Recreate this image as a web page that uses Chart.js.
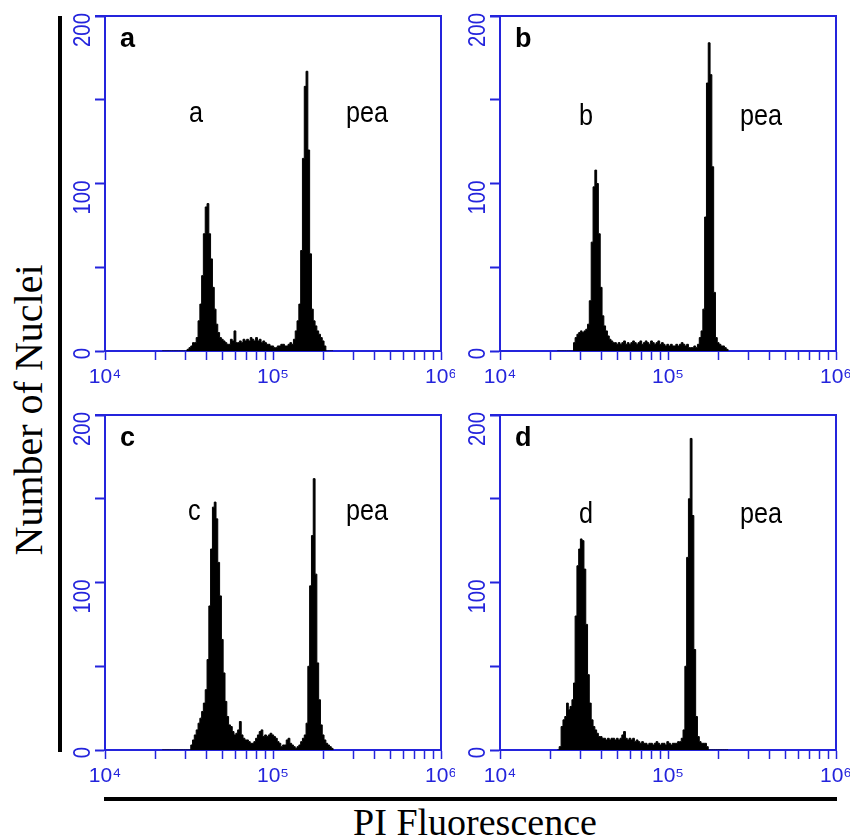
<!DOCTYPE html>
<html>
<head>
<meta charset="utf-8">
<script src="https://cdn.jsdelivr.net/npm/chart.js@4.4.1/dist/chart.umd.min.js"></script>
<style>
  body { margin: 0; background: #fff; width: 857px; height: 840px; position: relative; overflow: hidden; }
  canvas.panel { position: absolute; }
  .bar { position: absolute; background: #000; }
  .ytitle { position: absolute; left: 29px; top: 410px; font: 40px 'Liberation Serif', 'Times New Roman', serif;
            line-height: 40px; white-space: nowrap; transform: translate(-50%, -50%) rotate(-90deg); }
  .xtitle { position: absolute; left: 275px; width: 400px; top: 803px; text-align: center;
            font: 38px 'Liberation Serif', 'Times New Roman', serif; line-height: 38px; white-space: nowrap; }
</style>
</head>
<body>
<canvas id="pa" class="panel" width="400" height="395" style="left:55px;top:0px"></canvas>
<canvas id="pb" class="panel" width="400" height="395" style="left:450px;top:0px"></canvas>
<canvas id="pc" class="panel" width="400" height="395" style="left:55px;top:399px"></canvas>
<canvas id="pd" class="panel" width="400" height="395" style="left:450px;top:399px"></canvas>
<div class="bar" style="left:58px;top:16px;width:4px;height:736px"></div>
<div class="bar" style="left:104px;top:797px;width:733px;height:4px"></div>
<div class="ytitle">Number of Nuclei</div>
<div class="xtitle">PI Fluorescence</div>
<script>
// PI fluorescence channel (x1000)
const fluor = [
  21.9, 22.5, 23.1, 23.7, 24.3, 24.9, 25.5, 26.1, 26.8, 27.4,
  28, 28.7, 29.4, 30.1, 30.8, 31.6, 32.4, 33.2, 34, 34.9,
  35.8, 36.7, 37.6, 38.5, 39.5, 40.5, 41.5, 42.5, 43.6, 44.7,
  45.8, 46.9, 48.1, 49.3, 50.5, 51.8, 53.1, 54.4, 55.8, 57.2,
  58.6, 60.1, 61.6, 63.1, 64.7, 66.3, 68, 69.7, 71.4, 73.2,
  75, 76.9, 78.8, 80.8, 82.8, 84.9, 87, 89.2, 91.4, 93.7,
  96, 98.4, 100.9, 103.4, 106, 108.6, 111.3, 114.1, 117, 119.9,
  122.9, 126, 129.1, 132.3, 135.6, 139, 142.5, 146.1, 149.7, 153.5,
  157.3, 161.2, 165.2, 169.4, 173.6, 178, 182.4, 187, 191.6, 196.4,
  201.3, 206.4, 211.5, 216.8, 222.2, 227.8
];

const countsA = [
  0, 0, 0, 0, 0, 0, 0, 0, 0, 0,
  0, 0, 0, 0, 1, 2, 3, 5, 5, 8,
  18, 28, 45, 70, 86, 88, 70, 55, 38, 25,
  16, 11, 8, 7, 6, 5, 4, 4, 7, 6,
  12, 5, 5, 6, 5, 7, 6, 7, 6, 8,
  7, 6, 8, 6, 7, 5, 6, 5, 4, 4,
  3, 3, 2, 2, 3, 3, 4, 4, 3, 3,
  4, 5, 4, 7, 12, 18, 28, 60, 115, 158,
  167, 120, 58, 25, 18, 15, 12, 10, 8, 6,
  3, 0, 0, 0, 0, 0
];

const countsB = [
  0, 0, 0, 0, 0, 0, 0, 0, 0, 5,
  8, 10, 11, 12, 11, 12, 13, 16, 30, 65,
  98, 108, 100, 70, 38, 21, 15, 12, 9, 7,
  6, 5, 5, 4, 5, 4, 5, 6, 4, 5,
  4, 5, 6, 5, 4, 5, 6, 4, 5, 6,
  5, 4, 6, 5, 4, 5, 6, 4, 5, 4,
  3, 4, 3, 4, 3, 3, 4, 3, 4, 5,
  4, 3, 4, 2, 2, 2, 3, 2, 4, 8,
  12, 25, 80, 160, 184, 165, 110, 35, 8, 5,
  4, 3, 3, 2, 1, 0
];

const countsC = [
  0, 0, 0, 0, 0, 0, 0, 0, 0, 0,
  0, 0, 0, 0, 0, 0, 3, 6, 9, 12,
  16, 19, 23, 28, 36, 54, 86, 120, 145, 148,
  138, 112, 92, 66, 46, 29, 20, 15, 14, 11,
  9, 10, 12, 17, 9, 7, 6, 6, 5, 4,
  4, 5, 7, 9, 11, 12, 8, 9, 8, 9,
  10, 9, 8, 7, 5, 4, 2, 3, 3, 6,
  7, 4, 3, 2, 1, 2, 3, 5, 7, 9,
  16, 50, 98, 128, 162, 105, 52, 30, 15, 9,
  6, 4, 3, 2, 1, 0
];

const countsD = [
  0, 2, 14, 18, 20, 28, 24, 26, 30, 40,
  80, 110, 120, 126, 125, 108, 75, 45, 28, 18,
  14, 12, 10, 8, 8, 7, 7, 6, 7, 6,
  7, 7, 6, 7, 6, 7, 9, 11, 7, 6,
  7, 6, 7, 5, 6, 5, 4, 5, 4, 4,
  3, 4, 4, 3, 4, 5, 4, 3, 4, 4,
  3, 5, 4, 3, 4, 4, 4, 5, 5, 7,
  12, 50, 115, 150, 186, 140, 60, 20, 8, 5,
  4, 4, 4, 2, 0, 0, 0, 0, 0, 0,
  0, 0, 0, 0, 0, 0
];

const panelLetters = ['a', 'b', 'c', 'd'];
const sampleNames = ['a', 'b', 'c', 'd'];
const refName = 'pea';
const yTicks = [0, 100, 200];
const xTickValues = [1e4, 2e4, 3e4, 4e4, 5e4, 6e4, 7e4, 8e4, 9e4,
                     1e5, 2e5, 3e5, 4e5, 5e5, 6e5, 7e5, 8e5, 9e5, 1e6];
const sup = { 4: '\u2074', 5: '\u2075', 6: '\u2076' };

const BLUE = '#2424dc';
const SANS = "'Liberation Sans', Arial, sans-serif";

const panelDecor = {
  id: 'panelDecor',
  afterDatasetsDraw(chart, args, opts) {
    const { ctx, chartArea: a, scales: { x, y } } = chart;
    ctx.save();
    // top and right frame
    ctx.strokeStyle = BLUE;
    ctx.lineWidth = 2;
    ctx.beginPath();
    ctx.moveTo(a.left - 10, a.top);
    ctx.lineTo(a.right, a.top);
    ctx.lineTo(a.right, a.bottom);
    ctx.stroke();

    // rotated y tick labels
    ctx.fillStyle = BLUE;
    ctx.font = '24px ' + SANS;
    ctx.textAlign = 'right';
    ctx.textBaseline = 'middle';
    yTicks.forEach(v => {
      ctx.save();
      ctx.translate(a.left - 22, y.getPixelForValue(v) - 3);
      ctx.rotate(-Math.PI / 2);
      ctx.scale(0.85, 1);
      ctx.fillText(String(v), 0, 0);
      ctx.restore();
    });

    // panel letter
    ctx.fillStyle = '#000';
    ctx.textAlign = 'left';
    ctx.textBaseline = 'alphabetic';
    ctx.font = 'bold 27px ' + SANS;
    ctx.fillText(opts.letter, x.getPixelForValue(12300), y.getPixelForValue(181.5));

    // peak names
    ctx.font = '29px ' + SANS;
    opts.labels.forEach(l => {
      ctx.save();
      ctx.translate(x.getPixelForValue(l.x), y.getPixelForValue(l.y));
      ctx.scale(0.87, 1);
      ctx.fillText(l.text, 0, 0);
      ctx.restore();
    });
    ctx.restore();
  }
};

function makePanel(id, counts, decor) {
  new Chart(document.getElementById(id), {
    type: 'line',
    data: {
      datasets: [{
        data: fluor.map((f, i) => ({ x: f * 1000, y: counts[i] })),
        stepped: true,
        fill: 'origin',
        backgroundColor: '#000',
        borderColor: '#000',
        borderWidth: 1,
        pointRadius: 0
      }]
    },
    options: {
      responsive: false,
      animation: false,
      devicePixelRatio: 1,
      layout: { padding: { top: 16, left: 0, right: 14, bottom: 4 } },
      plugins: {
        legend: { display: false },
        tooltip: { enabled: false },
        panelDecor: decor
      },
      scales: {
        x: {
          type: 'logarithmic',
          min: 1e4,
          max: 1e6,
          afterBuildTicks: s => { s.ticks = xTickValues.map(v => ({ value: v })); },
          afterFit: s => { s.height = 40; s.paddingLeft = 0; s.paddingRight = 0; },
          grid: { drawOnChartArea: false, tickLength: 9, tickWidth: 1.5, tickColor: BLUE },
          border: { color: BLUE, width: 2 },
          ticks: {
            color: BLUE,
            font: { family: SANS, size: 21 },
            padding: 5,
            maxRotation: 0,
            autoSkip: false,
            callback: v => {
              const e = Math.round(Math.log10(v));
              return Math.abs(v - Math.pow(10, e)) < 1 ? '10' + sup[e] : '';
            }
          }
        },
        y: {
          min: 0,
          max: 200,
          afterFit: s => { s.width = 50; },
          ticks: { display: false, stepSize: 50 },
          grid: { drawOnChartArea: false, tickLength: 10, tickWidth: 2, tickColor: BLUE },
          border: { color: BLUE, width: 2 }
        }
      }
    },
    plugins: [panelDecor]
  });
}

makePanel('pa', countsA, { letter: panelLetters[0], labels: [
  { text: sampleNames[0], x: 31600, y: 137 }, { text: refName, x: 272000, y: 137 }] });
makePanel('pb', countsB, { letter: panelLetters[1], labels: [
  { text: sampleNames[1], x: 29500, y: 135 }, { text: refName, x: 268000, y: 135 }] });
makePanel('pc', countsC, { letter: panelLetters[2], labels: [
  { text: sampleNames[2], x: 31200, y: 137.5 }, { text: refName, x: 272000, y: 137.5 }] });
makePanel('pd', countsD, { letter: panelLetters[3], labels: [
  { text: sampleNames[3], x: 29500, y: 135.7 }, { text: refName, x: 268000, y: 135.7 }] });
</script>
</body>
</html>
